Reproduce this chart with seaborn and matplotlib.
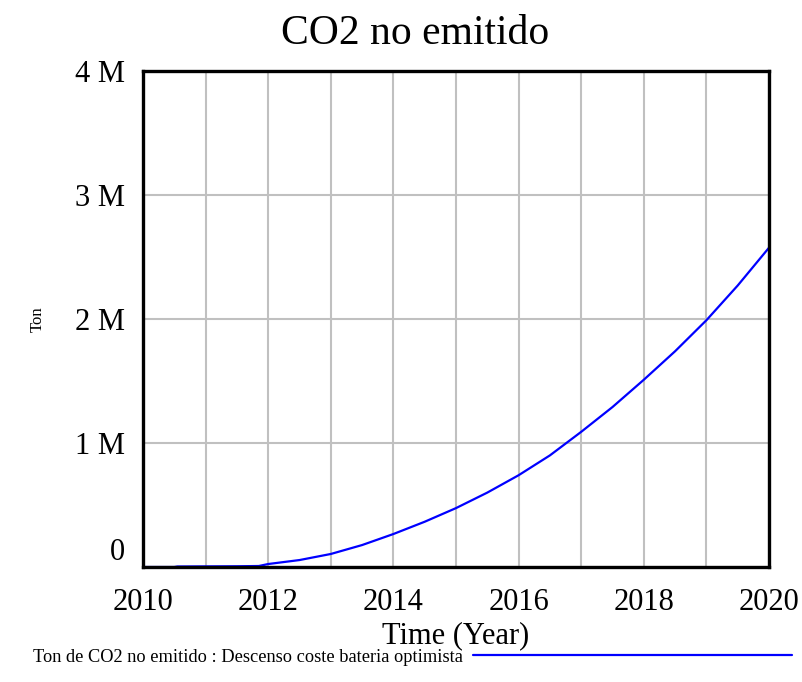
import matplotlib
matplotlib.use("Agg")
import matplotlib.pyplot as plt
import seaborn as sns
import pandas as pd
from matplotlib.ticker import FuncFormatter

years = [2010.0, 2010.5, 2010.55, 2011.0, 2011.5, 2011.85, 2012.0, 2012.5, 2013.0, 2013.5,
         2014.0, 2014.5, 2015.0, 2015.5, 2016.0, 2016.5, 2017.0, 2017.5, 2018.0,
         2018.5, 2019.0, 2019.5, 2020.0]
co2_tons = [0, 0, 4000, 5000, 6000, 8000, 24000, 56000, 105000, 177000,
            266000, 365000, 475000, 600000, 740000, 900000, 1090000, 1290000, 1510000,
            1740000, 1990000, 2270000, 2575000]

series_label = "Ton de CO2 no emitido : Descenso coste bateria optimista"
title = "CO2 no emitido"
xlabel = "Time (Year)"
ylabel = "Ton"
xticks = [2010, 2012, 2014, 2016, 2018, 2020]
yticks = [0, 1e6, 2e6, 3e6, 4e6]

df = pd.DataFrame({"Year": years, "Ton": co2_tons})

sns.set_theme(style="white")
plt.rcParams["font.family"] = ["Liberation Serif", "DejaVu Serif"]
plt.rcParams["text.color"] = "black"
plt.rcParams["axes.labelcolor"] = "black"

fig = plt.figure(figsize=(8.03, 6.82), dpi=100)
ax = fig.add_axes([143/803, 1 - 567/682, 626/803, 496/682])

sns.lineplot(data=df, x="Year", y="Ton", ax=ax, color="#0000ff", linewidth=1.6,
             label=series_label, legend=False)

ax.set_xlim(2010, 2020)
ax.set_ylim(0, 4e6)
ax.set_xticks(xticks)
ax.set_xticks(list(range(2010, 2021)), minor=True)
ax.set_yticks(yticks)
ax.yaxis.set_major_formatter(FuncFormatter(lambda v, p: "0" if v == 0 else f"{int(round(v/1e6))} M"))
ax.grid(True, which="both", axis="x", color="#c0c0c0", linewidth=1.5)
ax.grid(True, which="major", axis="y", color="#c0c0c0", linewidth=1.5)
ax.set_axisbelow(True)
for s in ax.spines.values():
    s.set_color("black")
    s.set_linewidth(2.4)
    s.set_visible(True)
ax.tick_params(axis="both", which="both", length=0, labelsize=22, colors="black")
ax.tick_params(axis="x", pad=15)
ax.tick_params(axis="y", pad=13)

fig.canvas.draw()
ax.get_yticklabels()[0].set_verticalalignment("bottom")

fig.text(415/803, 1 - 34/682, title, fontsize=30, ha="center", va="center", color="black")
ax.set_xlabel(xlabel, fontsize=22, labelpad=3)
ax.set_ylabel(ylabel, fontsize=12, labelpad=21)

h, l = ax.get_legend_handles_labels()
fig.legend(h, l, loc="center right", bbox_to_anchor=(792/803, 1 - 657/682),
           frameon=False, markerfirst=False, fontsize=13.2, handlelength=17.4,
           handletextpad=0.55, borderpad=0, borderaxespad=0)

fig.savefig("out.png", dpi=100, facecolor="white")
